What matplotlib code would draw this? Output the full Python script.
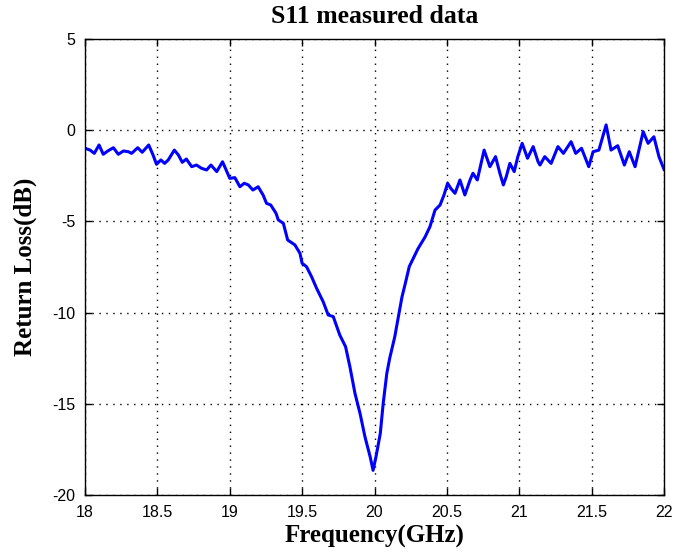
import matplotlib
matplotlib.use("Agg")
import matplotlib.pyplot as plt

freq_ghz = [18.0, 18.035, 18.064, 18.097, 18.126, 18.157, 18.196, 18.23, 18.265, 18.30,
            18.322, 18.364, 18.395, 18.44, 18.47, 18.494, 18.524, 18.55, 18.575, 18.617,
            18.645, 18.672, 18.70, 18.737, 18.77, 18.805, 18.84, 18.87, 18.91, 18.95,
            18.97, 19.0, 19.035, 19.07, 19.10, 19.128, 19.16, 19.196, 19.23, 19.254,
            19.283, 19.32, 19.335, 19.37, 19.40, 19.45, 19.485, 19.50, 19.53, 19.565,
            19.60, 19.645, 19.68, 19.715, 19.76, 19.80, 19.83, 19.865, 19.90, 19.934,
            19.97, 19.99, 20.01, 20.04, 20.06, 20.085, 20.105, 20.14, 20.165, 20.19,
            20.21, 20.24, 20.30, 20.35, 20.383, 20.418, 20.453, 20.48, 20.505, 20.527,
            20.556, 20.59, 20.624, 20.66, 20.68, 20.71, 20.757, 20.797, 20.836, 20.866,
            20.89, 20.91, 20.935, 20.965, 20.99, 21.02, 21.057, 21.096, 21.13, 21.143,
            21.176, 21.22, 21.267, 21.305, 21.358, 21.39, 21.43, 21.48, 21.51, 21.55,
            21.60, 21.634, 21.68, 21.726, 21.76, 21.80, 21.856, 21.89, 21.93, 21.965,
            22.0]
return_loss_db = [-0.99, -1.09, -1.27, -0.81, -1.32, -1.14, -0.96, -1.32, -1.14, -1.18,
                  -1.27, -0.96, -1.21, -0.81, -1.36, -1.87, -1.63, -1.82, -1.63, -1.09,
                  -1.36, -1.76, -1.58, -2.00, -1.91, -2.09, -2.18, -1.91, -2.27, -1.73,
                  -2.09, -2.64, -2.60, -3.10, -2.91, -3.00, -3.28, -3.10, -3.55, -4.01,
                  -4.10, -4.56, -4.92, -5.10, -6.02, -6.29, -6.75, -7.30, -7.48, -8.03,
                  -8.67, -9.40, -10.13, -10.22, -11.23, -11.87, -12.97, -14.43, -15.53, -16.81,
                  -17.91, -18.65, -17.91, -16.62, -14.97, -13.33, -12.50, -11.32, -10.22, -9.13,
                  -8.49, -7.48, -6.50, -5.84, -5.29, -4.38, -4.10, -3.55, -2.91, -3.19,
                  -3.46, -2.73, -3.55, -2.73, -2.36, -2.73, -1.09, -2.00, -1.45, -2.36,
                  -3.00, -2.55, -1.82, -2.27, -1.45, -0.72, -1.54, -0.90, -1.73, -1.91,
                  -1.45, -1.82, -0.90, -1.27, -0.63, -1.27, -0.99, -2.00, -1.18, -1.09,
                  0.29, -1.09, -0.85, -1.91, -1.18, -2.00, -0.08, -0.72, -0.36, -1.45,
                  -2.15]

x_ticks = [18, 18.5, 19, 19.5, 20, 20.5, 21, 21.5, 22]
x_tick_labels = ["18", "18.5", "19", "19.5", "20", "20.5", "21", "21.5", "22"]
y_ticks = [-20, -15, -10, -5, 0, 5]
y_tick_labels = ["-20", "-15", "-10", "-5", "0", "5"]

fig = plt.figure(figsize=(6.94, 5.54), dpi=100)
ax = fig.add_axes([0.1225, 0.1065, 0.8343, 0.8231])
ax.plot(freq_ghz, return_loss_db, color="#0000ff", linewidth=2.2)
ax.set_xlim(18, 22)
ax.set_ylim(-20, 5)
ax.set_xticks(x_ticks)
ax.set_xticklabels(x_tick_labels, family="Liberation Sans", fontsize=11.5)
ax.set_yticks(y_ticks)
ax.set_yticklabels(y_tick_labels, family="Liberation Sans", fontsize=11.5)
ax.tick_params(direction="in", top=True, right=True, length=5, width=1, pad=7)
ax.grid(True, color="black", linestyle=(0, (1, 4)), linewidth=1)
for s in ax.spines.values():
    s.set_linewidth(1)
ax.set_title("S11 measured data", family="Liberation Serif", fontweight="bold",
             fontsize=18.5, pad=11.5)
ax.set_xlabel("Frequency(GHz)", family="Liberation Serif", fontweight="bold",
              fontsize=18, va="center")
ax.xaxis.set_label_coords(0.5, -0.092)
ax.set_ylabel("Return Loss(dB)", family="Liberation Serif", fontweight="bold",
              fontsize=18, va="center")
ax.yaxis.set_label_coords(-0.1036, 0.5)
fig.savefig("out.png", dpi=100)
